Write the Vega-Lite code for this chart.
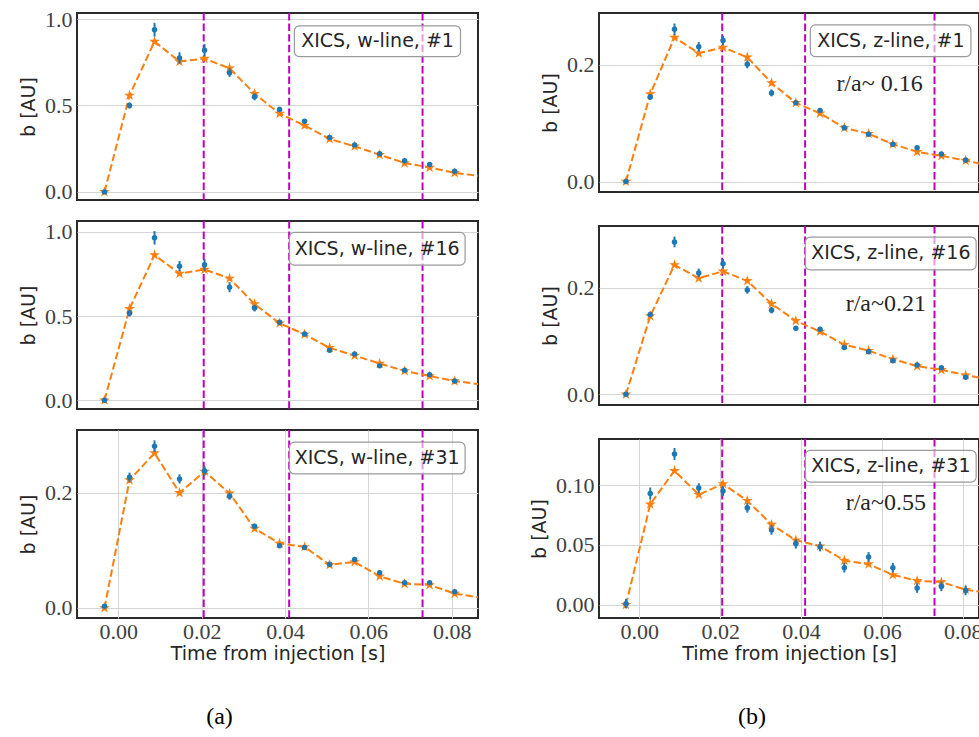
{
"$schema": "https://vega.github.io/schema/vega-lite/v6.json",
"padding": {"left": 18, "top": 7, "right": 0, "bottom": 4},
"background": "white",
"datasets": {
"vl": [{"t": 0.0205}, {"t": 0.041}, {"t": 0.073}],
"fit": [
{"t": -0.0033, "w1": 0, "w16": 0, "w31": 0, "z1": 0, "z16": 0, "z31": 0},
{"t": 0.0027, "w1": 0.558, "w16": 0.543, "w31": 0.222, "z1": 0.150, "z16": 0.147, "z31": 0.084},
{"t": 0.0087, "w1": 0.870, "w16": 0.862, "w31": 0.269, "z1": 0.247, "z16": 0.243, "z31": 0.112},
{"t": 0.0147, "w1": 0.754, "w16": 0.752, "w31": 0.200, "z1": 0.220, "z16": 0.218, "z31": 0.092},
{"t": 0.0207, "w1": 0.771, "w16": 0.776, "w31": 0.237, "z1": 0.230, "z16": 0.231, "z31": 0.101},
{"t": 0.0267, "w1": 0.715, "w16": 0.723, "w31": 0.199, "z1": 0.213, "z16": 0.213, "z31": 0.087},
{"t": 0.0327, "w1": 0.568, "w16": 0.571, "w31": 0.138, "z1": 0.169, "z16": 0.170, "z31": 0.067},
{"t": 0.0387, "w1": 0.453, "w16": 0.457, "w31": 0.112, "z1": 0.135, "z16": 0.138, "z31": 0.054},
{"t": 0.0447, "w1": 0.384, "w16": 0.391, "w31": 0.106, "z1": 0.117, "z16": 0.118, "z31": 0.049},
{"t": 0.0507, "w1": 0.306, "w16": 0.311, "w31": 0.075, "z1": 0.092, "z16": 0.093, "z31": 0.037},
{"t": 0.0567, "w1": 0.264, "w16": 0.265, "w31": 0.080, "z1": 0.082, "z16": 0.082, "z31": 0.034},
{"t": 0.0627, "w1": 0.215, "w16": 0.218, "w31": 0.055, "z1": 0.064, "z16": 0.066, "z31": 0.025},
{"t": 0.0687, "w1": 0.167, "w16": 0.174, "w31": 0.042, "z1": 0.051, "z16": 0.053, "z31": 0.020},
{"t": 0.0747, "w1": 0.141, "w16": 0.144, "w31": 0.040, "z1": 0.044, "z16": 0.046, "z31": 0.019},
{"t": 0.0807, "w1": 0.110, "w16": 0.114, "w31": 0.025, "z1": 0.036, "z16": 0.036, "z31": 0.0126},
{"t": 0.0867, "w1": 0.092, "w16": 0.095, "w31": 0.018, "z1": 0.027, "z16": 0.028, "z31": 0.0099}
],
"obs": [
{"t": -0.0033, "w1": 0, "w1e": 0.005, "w16": 0, "w16e": 0.005, "w31": 0.003, "w31e": 0.003, "z1": 0, "z1e": 0.002, "z16": 0, "z16e": 0.002, "z31": 0.001, "z31e": 0.004},
{"t": 0.0027, "w1": 0.500, "w1e": 0.018, "w16": 0.517, "w16e": 0.02, "w31": 0.227, "w31e": 0.008, "z1": 0.145, "z1e": 0.005, "z16": 0.150, "z16e": 0.005, "z31": 0.093, "z31e": 0.005},
{"t": 0.0087, "w1": 0.938, "w1e": 0.04, "w16": 0.964, "w16e": 0.04, "w31": 0.281, "w31e": 0.01, "z1": 0.261, "z1e": 0.01, "z16": 0.286, "z16e": 0.01, "z31": 0.126, "z31e": 0.005},
{"t": 0.0147, "w1": 0.775, "w1e": 0.033, "w16": 0.796, "w16e": 0.03, "w31": 0.224, "w31e": 0.008, "z1": 0.231, "z1e": 0.008, "z16": 0.228, "z16e": 0.008, "z31": 0.0975, "z31e": 0.004},
{"t": 0.0207, "w1": 0.820, "w1e": 0.035, "w16": 0.804, "w16e": 0.035, "w31": 0.238, "w31e": 0.008, "z1": 0.242, "z1e": 0.008, "z16": 0.245, "z16e": 0.009, "z31": 0.095, "z31e": 0.004},
{"t": 0.0267, "w1": 0.690, "w1e": 0.025, "w16": 0.671, "w16e": 0.03, "w31": 0.194, "w31e": 0.006, "z1": 0.201, "z1e": 0.007, "z16": 0.196, "z16e": 0.007, "z31": 0.081, "z31e": 0.004},
{"t": 0.0327, "w1": 0.550, "w1e": 0.02, "w16": 0.547, "w16e": 0.02, "w31": 0.142, "w31e": 0.004, "z1": 0.152, "z1e": 0.006, "z16": 0.158, "z16e": 0.006, "z31": 0.0626, "z31e": 0.004},
{"t": 0.0387, "w1": 0.477, "w1e": 0.015, "w16": 0.463, "w16e": 0.012, "w31": 0.108, "w31e": 0.003, "z1": 0.135, "z1e": 0.003, "z16": 0.124, "z16e": 0.004, "z31": 0.051, "z31e": 0.004},
{"t": 0.0447, "w1": 0.409, "w1e": 0.012, "w16": 0.393, "w16e": 0.01, "w31": 0.105, "w31e": 0.003, "z1": 0.122, "z1e": 0.003, "z16": 0.122, "z16e": 0.003, "z31": 0.0486, "z31e": 0.004},
{"t": 0.0507, "w1": 0.314, "w1e": 0.01, "w16": 0.297, "w16e": 0.009, "w31": 0.076, "w31e": 0.003, "z1": 0.092, "z1e": 0.003, "z16": 0.088, "z16e": 0.003, "z31": 0.031, "z31e": 0.004},
{"t": 0.0567, "w1": 0.271, "w1e": 0.01, "w16": 0.275, "w16e": 0.009, "w31": 0.084, "w31e": 0.003, "z1": 0.081, "z1e": 0.003, "z16": 0.080, "z16e": 0.003, "z31": 0.040, "z31e": 0.004},
{"t": 0.0627, "w1": 0.221, "w1e": 0.009, "w16": 0.204, "w16e": 0.008, "w31": 0.061, "w31e": 0.003, "z1": 0.064, "z1e": 0.003, "z16": 0.063, "z16e": 0.003, "z31": 0.031, "z31e": 0.004},
{"t": 0.0687, "w1": 0.180, "w1e": 0.008, "w16": 0.178, "w16e": 0.008, "w31": 0.044, "w31e": 0.002, "z1": 0.058, "z1e": 0.003, "z16": 0.055, "z16e": 0.003, "z31": 0.014, "z31e": 0.004},
{"t": 0.0747, "w1": 0.159, "w1e": 0.008, "w16": 0.152, "w16e": 0.007, "w31": 0.044, "w31e": 0.002, "z1": 0.047, "z1e": 0.002, "z16": 0.050, "z16e": 0.002, "z31": 0.0154, "z31e": 0.004},
{"t": 0.0807, "w1": 0.120, "w1e": 0.007, "w16": 0.114, "w16e": 0.007, "w31": 0.028, "w31e": 0.002, "z1": 0.037, "z1e": 0.002, "z16": 0.032, "z16e": 0.002, "z31": 0.012, "z31e": 0.004}
]
},
"config": {
"view": {"stroke": "#2b2b2b", "strokeWidth": 2},
"axis": {"domain": false, "ticks": false, "grid": true, "gridColor": "#d4d4d4", "gridWidth": 1, "labelFont": "Liberation Serif", "labelFontSize": 22, "labelColor": "#404040", "labelPadding": 5, "titleFont": "DejaVu Sans", "titleFontSize": 19, "titleFontWeight": "normal", "titleColor": "#262626", "titlePadding": 6},
"axisX": {"labelPadding": 3, "titlePadding": 2}
},
"spacing": 50,
"hconcat": [
{
"spacing": 21,
"bounds": "flush",
"vconcat": [
{
"width": 401, "height": 187,
"layer": [
{"data": {"name": "vl"}, "mark": {"type": "rule", "color": "#bf00bf", "strokeWidth": 2, "strokeDash": [7.4, 3.2]},
 "encoding": {"x": {"field": "t", "type": "quantitative", "scale": {"domain": [-0.0099, 0.0863], "nice": false, "zero": false}, "axis": null}}},
{"data": {"name": "fit"}, "mark": {"type": "line", "color": "#ff7f0e", "strokeWidth": 2, "strokeDash": [7.4, 3.2], "clip": true},
 "encoding": {"x": {"field": "t", "type": "quantitative", "scale": {"domain": [-0.0099, 0.0863], "nice": false, "zero": false}, "axis": null},
  "y": {"field": "w1", "type": "quantitative", "scale": {"domain": [-0.047, 1.035], "nice": false, "zero": false}, "axis": {"values": [0, 0.5, 1], "format": ".1f"}, "title": "b [AU]"}}},
{"data": {"name": "fit"}, "transform": [{"filter": "datum.t < 0.084"}], "mark": {"type": "point", "shape": "M0,-1L0.2245,-0.309L0.951,-0.309L0.363,0.118L0.588,0.809L0,0.382L-0.588,0.809L-0.363,0.118L-0.951,-0.309L-0.2245,-0.309Z", "filled": true, "color": "#ff7f0e", "size": 130, "opacity": 1},
 "encoding": {"x": {"field": "t", "type": "quantitative"}, "y": {"field": "w1", "type": "quantitative", "title": "b [AU]"}}},
{"data": {"name": "obs"}, "mark": {"type": "errorbar", "color": "#1f77b4", "thickness": 2},
 "encoding": {"x": {"field": "t", "type": "quantitative"}, "y": {"field": "w1", "type": "quantitative", "title": "b [AU]"}, "yError": {"field": "w1e"}}},
{"data": {"name": "obs"}, "mark": {"type": "circle", "color": "#1f77b4", "size": 30, "opacity": 1},
 "encoding": {"x": {"field": "t", "type": "quantitative"}, "y": {"field": "w1", "type": "quantitative", "title": "b [AU]"}}},
{"data": {"values": [{}]}, "mark": {"type": "rect", "fill": "#ffffff", "fillOpacity": 0.6, "stroke": "#9a9a9a", "strokeWidth": 1.2, "cornerRadius": 5},
 "encoding": {"x": {"datum": 0.04225, "type": "quantitative"}, "x2": {"datum": 0.0821}, "y": {"datum": 0.783, "type": "quantitative"}, "y2": {"datum": 0.961}}},
{"data": {"values": [{}]}, "mark": {"type": "text", "text": "XICS, w-line, #1", "font": "DejaVu Sans", "fontSize": 19, "color": "#262626", "align": "center", "baseline": "middle"},
 "encoding": {"x": {"datum": 0.0622, "type": "quantitative"}, "y": {"datum": 0.872, "type": "quantitative"}}}
]
},
{
"width": 401, "height": 188,
"layer": [
{"data": {"name": "vl"}, "mark": {"type": "rule", "color": "#bf00bf", "strokeWidth": 2, "strokeDash": [7.4, 3.2]},
 "encoding": {"x": {"field": "t", "type": "quantitative", "scale": {"domain": [-0.0099, 0.0863], "nice": false, "zero": false}, "axis": null}}},
{"data": {"name": "fit"}, "mark": {"type": "line", "color": "#ff7f0e", "strokeWidth": 2, "strokeDash": [7.4, 3.2], "clip": true},
 "encoding": {"x": {"field": "t", "type": "quantitative", "scale": {"domain": [-0.0099, 0.0863], "nice": false, "zero": false}, "axis": null},
  "y": {"field": "w16", "type": "quantitative", "scale": {"domain": [-0.052, 1.064], "nice": false, "zero": false}, "axis": {"values": [0, 0.5, 1], "format": ".1f"}, "title": "b [AU]"}}},
{"data": {"name": "fit"}, "transform": [{"filter": "datum.t < 0.084"}], "mark": {"type": "point", "shape": "M0,-1L0.2245,-0.309L0.951,-0.309L0.363,0.118L0.588,0.809L0,0.382L-0.588,0.809L-0.363,0.118L-0.951,-0.309L-0.2245,-0.309Z", "filled": true, "color": "#ff7f0e", "size": 130, "opacity": 1},
 "encoding": {"x": {"field": "t", "type": "quantitative"}, "y": {"field": "w16", "type": "quantitative", "title": "b [AU]"}}},
{"data": {"name": "obs"}, "mark": {"type": "errorbar", "color": "#1f77b4", "thickness": 2},
 "encoding": {"x": {"field": "t", "type": "quantitative"}, "y": {"field": "w16", "type": "quantitative", "title": "b [AU]"}, "yError": {"field": "w16e"}}},
{"data": {"name": "obs"}, "mark": {"type": "circle", "color": "#1f77b4", "size": 30, "opacity": 1},
 "encoding": {"x": {"field": "t", "type": "quantitative"}, "y": {"field": "w16", "type": "quantitative", "title": "b [AU]"}}},
{"data": {"values": [{}]}, "mark": {"type": "rect", "fill": "#ffffff", "fillOpacity": 0.6, "stroke": "#9a9a9a", "strokeWidth": 1.2, "cornerRadius": 5},
 "encoding": {"x": {"datum": 0.04105, "type": "quantitative"}, "x2": {"datum": 0.0832}, "y": {"datum": 0.802, "type": "quantitative"}, "y2": {"datum": 0.996}}},
{"data": {"values": [{}]}, "mark": {"type": "text", "text": "XICS, w-line, #16", "font": "DejaVu Sans", "fontSize": 19, "color": "#262626", "align": "center", "baseline": "middle"},
 "encoding": {"x": {"datum": 0.0621, "type": "quantitative"}, "y": {"datum": 0.899, "type": "quantitative"}}}
]
},
{
"width": 401, "height": 188,
"title": {"text": "(a)", "orient": "bottom", "anchor": "middle", "frame": "group", "offset": 42, "dx": -58, "font": "Liberation Serif", "fontSize": 24, "fontWeight": "normal", "color": "#000000"},
"layer": [
{"data": {"name": "vl"}, "mark": {"type": "rule", "color": "#bf00bf", "strokeWidth": 2, "strokeDash": [7.4, 3.2]},
 "encoding": {"x": {"field": "t", "type": "quantitative", "scale": {"domain": [-0.0099, 0.0863], "nice": false, "zero": false}, "axis": {"values": [0, 0.02, 0.04, 0.06, 0.08], "format": ".2f"}, "title": "Time from injection [s]"}}},
{"data": {"name": "fit"}, "mark": {"type": "line", "color": "#ff7f0e", "strokeWidth": 2, "strokeDash": [7.4, 3.2], "clip": true},
 "encoding": {"x": {"field": "t", "type": "quantitative", "title": "Time from injection [s]"},
  "y": {"field": "w31", "type": "quantitative", "scale": {"domain": [-0.0174, 0.309], "nice": false, "zero": false}, "axis": {"values": [0, 0.2], "format": ".1f"}, "title": "b [AU]"}}},
{"data": {"name": "fit"}, "transform": [{"filter": "datum.t < 0.084"}], "mark": {"type": "point", "shape": "M0,-1L0.2245,-0.309L0.951,-0.309L0.363,0.118L0.588,0.809L0,0.382L-0.588,0.809L-0.363,0.118L-0.951,-0.309L-0.2245,-0.309Z", "filled": true, "color": "#ff7f0e", "size": 130, "opacity": 1},
 "encoding": {"x": {"field": "t", "type": "quantitative", "title": "Time from injection [s]"}, "y": {"field": "w31", "type": "quantitative", "title": "b [AU]"}}},
{"data": {"name": "obs"}, "mark": {"type": "errorbar", "color": "#1f77b4", "thickness": 2},
 "encoding": {"x": {"field": "t", "type": "quantitative", "title": "Time from injection [s]"}, "y": {"field": "w31", "type": "quantitative", "title": "b [AU]"}, "yError": {"field": "w31e"}}},
{"data": {"name": "obs"}, "mark": {"type": "circle", "color": "#1f77b4", "size": 30, "opacity": 1},
 "encoding": {"x": {"field": "t", "type": "quantitative", "title": "Time from injection [s]"}, "y": {"field": "w31", "type": "quantitative", "title": "b [AU]"}}},
{"data": {"values": [{}]}, "mark": {"type": "rect", "fill": "#ffffff", "fillOpacity": 0.6, "stroke": "#9a9a9a", "strokeWidth": 1.2, "cornerRadius": 5},
 "encoding": {"x": {"datum": 0.04105, "type": "quantitative"}, "x2": {"datum": 0.0832}, "y": {"datum": 0.2327, "type": "quantitative"}, "y2": {"datum": 0.2878}}},
{"data": {"values": [{}]}, "mark": {"type": "text", "text": "XICS, w-line, #31", "font": "DejaVu Sans", "fontSize": 19, "color": "#262626", "align": "center", "baseline": "middle"},
 "encoding": {"x": {"datum": 0.0621, "type": "quantitative"}, "y": {"datum": 0.2602, "type": "quantitative"}}}
]
}
]
},
{
"spacing": 34,
"bounds": "flush",
"vconcat": [
{
"width": 380, "height": 179,
"layer": [
{"data": {"name": "vl"}, "mark": {"type": "rule", "color": "#bf00bf", "strokeWidth": 2, "strokeDash": [7.4, 3.2]},
 "encoding": {"x": {"field": "t", "type": "quantitative", "scale": {"domain": [-0.00997, 0.0840], "nice": false, "zero": false}, "axis": null}}},
{"data": {"name": "fit"}, "mark": {"type": "line", "color": "#ff7f0e", "strokeWidth": 2, "strokeDash": [7.4, 3.2], "clip": true},
 "encoding": {"x": {"field": "t", "type": "quantitative", "scale": {"domain": [-0.00997, 0.0840], "nice": false, "zero": false}, "axis": null},
  "y": {"field": "z1", "type": "quantitative", "scale": {"domain": [-0.018, 0.289], "nice": false, "zero": false}, "axis": {"values": [0, 0.2], "format": ".1f"}, "title": "b [AU]"}}},
{"data": {"name": "fit"}, "transform": [{"filter": "datum.t < 0.084"}], "mark": {"type": "point", "shape": "M0,-1L0.2245,-0.309L0.951,-0.309L0.363,0.118L0.588,0.809L0,0.382L-0.588,0.809L-0.363,0.118L-0.951,-0.309L-0.2245,-0.309Z", "filled": true, "color": "#ff7f0e", "size": 130, "opacity": 1},
 "encoding": {"x": {"field": "t", "type": "quantitative"}, "y": {"field": "z1", "type": "quantitative", "title": "b [AU]"}}},
{"data": {"name": "obs"}, "mark": {"type": "errorbar", "color": "#1f77b4", "thickness": 2},
 "encoding": {"x": {"field": "t", "type": "quantitative"}, "y": {"field": "z1", "type": "quantitative", "title": "b [AU]"}, "yError": {"field": "z1e"}}},
{"data": {"name": "obs"}, "mark": {"type": "circle", "color": "#1f77b4", "size": 30, "opacity": 1},
 "encoding": {"x": {"field": "t", "type": "quantitative"}, "y": {"field": "z1", "type": "quantitative", "title": "b [AU]"}}},
{"data": {"values": [{}]}, "mark": {"type": "rect", "fill": "#ffffff", "fillOpacity": 0.6, "stroke": "#9a9a9a", "strokeWidth": 1.2, "cornerRadius": 5},
 "encoding": {"x": {"datum": 0.04229, "type": "quantitative"}, "x2": {"datum": 0.0820}, "y": {"datum": 0.2143, "type": "quantitative"}, "y2": {"datum": 0.2685}}},
{"data": {"values": [{}]}, "mark": {"type": "text", "text": "XICS, z-line, #1", "font": "DejaVu Sans", "fontSize": 19, "color": "#262626", "align": "center", "baseline": "middle"},
 "encoding": {"x": {"datum": 0.0622, "type": "quantitative"}, "y": {"datum": 0.2414, "type": "quantitative"}}},
{"data": {"values": [{}]}, "mark": {"type": "text", "text": "r/a~ 0.16", "font": "Liberation Serif", "fontSize": 24, "color": "#262626", "align": "center", "baseline": "alphabetic"},
 "encoding": {"x": {"datum": 0.0594, "type": "quantitative"}, "y": {"datum": 0.156, "type": "quantitative"}}}
]
},
{
"width": 380, "height": 179,
"layer": [
{"data": {"name": "vl"}, "mark": {"type": "rule", "color": "#bf00bf", "strokeWidth": 2, "strokeDash": [7.4, 3.2]},
 "encoding": {"x": {"field": "t", "type": "quantitative", "scale": {"domain": [-0.00997, 0.0840], "nice": false, "zero": false}, "axis": null}}},
{"data": {"name": "fit"}, "mark": {"type": "line", "color": "#ff7f0e", "strokeWidth": 2, "strokeDash": [7.4, 3.2], "clip": true},
 "encoding": {"x": {"field": "t", "type": "quantitative", "scale": {"domain": [-0.00997, 0.0840], "nice": false, "zero": false}, "axis": null},
  "y": {"field": "z16", "type": "quantitative", "scale": {"domain": [-0.02, 0.316], "nice": false, "zero": false}, "axis": {"values": [0, 0.2], "format": ".1f"}, "title": "b [AU]"}}},
{"data": {"name": "fit"}, "transform": [{"filter": "datum.t < 0.084"}], "mark": {"type": "point", "shape": "M0,-1L0.2245,-0.309L0.951,-0.309L0.363,0.118L0.588,0.809L0,0.382L-0.588,0.809L-0.363,0.118L-0.951,-0.309L-0.2245,-0.309Z", "filled": true, "color": "#ff7f0e", "size": 130, "opacity": 1},
 "encoding": {"x": {"field": "t", "type": "quantitative"}, "y": {"field": "z16", "type": "quantitative", "title": "b [AU]"}}},
{"data": {"name": "obs"}, "mark": {"type": "errorbar", "color": "#1f77b4", "thickness": 2},
 "encoding": {"x": {"field": "t", "type": "quantitative"}, "y": {"field": "z16", "type": "quantitative", "title": "b [AU]"}, "yError": {"field": "z16e"}}},
{"data": {"name": "obs"}, "mark": {"type": "circle", "color": "#1f77b4", "size": 30, "opacity": 1},
 "encoding": {"x": {"field": "t", "type": "quantitative"}, "y": {"field": "z16", "type": "quantitative", "title": "b [AU]"}}},
{"data": {"values": [{}]}, "mark": {"type": "rect", "fill": "#ffffff", "fillOpacity": 0.6, "stroke": "#9a9a9a", "strokeWidth": 1.2, "cornerRadius": 5},
 "encoding": {"x": {"datum": 0.04105, "type": "quantitative"}, "x2": {"datum": 0.0833}, "y": {"datum": 0.2338, "type": "quantitative"}, "y2": {"datum": 0.2953}}},
{"data": {"values": [{}]}, "mark": {"type": "text", "text": "XICS, z-line, #16", "font": "DejaVu Sans", "fontSize": 19, "color": "#262626", "align": "center", "baseline": "middle"},
 "encoding": {"x": {"datum": 0.0622, "type": "quantitative"}, "y": {"datum": 0.2646, "type": "quantitative"}}},
{"data": {"values": [{}]}, "mark": {"type": "text", "text": "r/a~0.21", "font": "Liberation Serif", "fontSize": 24, "color": "#262626", "align": "center", "baseline": "alphabetic"},
 "encoding": {"x": {"datum": 0.06096, "type": "quantitative"}, "y": {"datum": 0.156, "type": "quantitative"}}}
]
},
{
"width": 380, "height": 179,
"title": {"text": "(b)", "orient": "bottom", "anchor": "middle", "frame": "group", "offset": 42, "dx": -37, "font": "Liberation Serif", "fontSize": 24, "fontWeight": "normal", "color": "#000000"},
"layer": [
{"data": {"name": "vl"}, "mark": {"type": "rule", "color": "#bf00bf", "strokeWidth": 2, "strokeDash": [7.4, 3.2]},
 "encoding": {"x": {"field": "t", "type": "quantitative", "scale": {"domain": [-0.00997, 0.0840], "nice": false, "zero": false}, "axis": {"values": [0, 0.02, 0.04, 0.06, 0.08], "format": ".2f"}, "title": "Time from injection [s]"}}},
{"data": {"name": "fit"}, "mark": {"type": "line", "color": "#ff7f0e", "strokeWidth": 2, "strokeDash": [7.4, 3.2], "clip": true},
 "encoding": {"x": {"field": "t", "type": "quantitative", "title": "Time from injection [s]"},
  "y": {"field": "z31", "type": "quantitative", "scale": {"domain": [-0.011, 0.1385], "nice": false, "zero": false}, "axis": {"values": [0, 0.05, 0.1], "format": ".2f"}, "title": "b [AU]"}}},
{"data": {"name": "fit"}, "transform": [{"filter": "datum.t < 0.084"}], "mark": {"type": "point", "shape": "M0,-1L0.2245,-0.309L0.951,-0.309L0.363,0.118L0.588,0.809L0,0.382L-0.588,0.809L-0.363,0.118L-0.951,-0.309L-0.2245,-0.309Z", "filled": true, "color": "#ff7f0e", "size": 130, "opacity": 1},
 "encoding": {"x": {"field": "t", "type": "quantitative", "title": "Time from injection [s]"}, "y": {"field": "z31", "type": "quantitative", "title": "b [AU]"}}},
{"data": {"name": "obs"}, "mark": {"type": "errorbar", "color": "#1f77b4", "thickness": 2},
 "encoding": {"x": {"field": "t", "type": "quantitative", "title": "Time from injection [s]"}, "y": {"field": "z31", "type": "quantitative", "title": "b [AU]"}, "yError": {"field": "z31e"}}},
{"data": {"name": "obs"}, "mark": {"type": "circle", "color": "#1f77b4", "size": 30, "opacity": 1},
 "encoding": {"x": {"field": "t", "type": "quantitative", "title": "Time from injection [s]"}, "y": {"field": "z31", "type": "quantitative", "title": "b [AU]"}}},
{"data": {"values": [{}]}, "mark": {"type": "rect", "fill": "#ffffff", "fillOpacity": 0.6, "stroke": "#9a9a9a", "strokeWidth": 1.2, "cornerRadius": 5},
 "encoding": {"x": {"datum": 0.04105, "type": "quantitative"}, "x2": {"datum": 0.0833}, "y": {"datum": 0.1025, "type": "quantitative"}, "y2": {"datum": 0.1290}}},
{"data": {"values": [{}]}, "mark": {"type": "text", "text": "XICS, z-line, #31", "font": "DejaVu Sans", "fontSize": 19, "color": "#262626", "align": "center", "baseline": "middle"},
 "encoding": {"x": {"datum": 0.0622, "type": "quantitative"}, "y": {"datum": 0.1157, "type": "quantitative"}}},
{"data": {"values": [{}]}, "mark": {"type": "text", "text": "r/a~0.55", "font": "Liberation Serif", "fontSize": 24, "color": "#262626", "align": "center", "baseline": "alphabetic"},
 "encoding": {"x": {"datum": 0.06096, "type": "quantitative"}, "y": {"datum": 0.0796, "type": "quantitative"}}}
]
}
]
}
]
}
